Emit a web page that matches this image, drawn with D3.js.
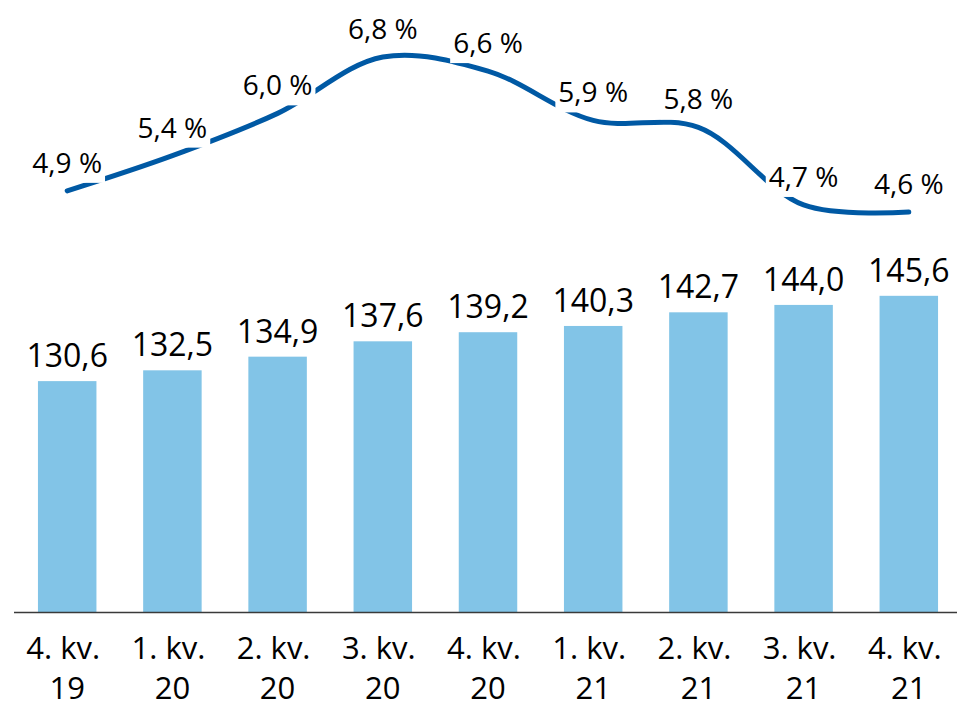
<!DOCTYPE html>
<html>
<head>
<meta charset="utf-8">
<script src="https://cdn.jsdelivr.net/npm/d3@7"></script>
<style>
  html, body { margin: 0; padding: 0; background: #fff; }
  svg { display: block; font-family: "Open Sans", "Noto Sans", sans-serif; }
</style>
</head>
<body>
<svg id="chart" width="957" height="708"></svg>
<script>
const categories = ["4. kv. 19", "1. kv. 20", "2. kv. 20", "3. kv. 20", "4. kv. 20", "1. kv. 21", "2. kv. 21", "3. kv. 21", "4. kv. 21"];
const catLine1 = ["4. kv.", "1. kv.", "2. kv.", "3. kv.", "4. kv.", "1. kv.", "2. kv.", "3. kv.", "4. kv."];
const catLine2 = ["19", "20", "20", "20", "20", "21", "21", "21", "21"];
const barValues = [130.6, 132.5, 134.9, 137.6, 139.2, 140.3, 142.7, 144.0, 145.6];
const lineValues = [4.9, 5.4, 6.0, 6.8, 6.6, 5.9, 5.8, 4.7, 4.6];

const fmt1 = v => d3.format(".1f")(v).replace(".", ",");

const svg = d3.select("#chart");
const W = 957, H = 708;
const baseY = 612;

const x = d3.scaleBand()
  .domain(categories)
  .range([14.6, 961.4])
  .paddingInner(0.444)
  .paddingOuter(0.222);

const yBar = d3.scaleLinear().domain([90, 180]).range([baseY, 100.2]);
const yLine = d3.scaleLinear().domain([4.6, 6.8]).range([212, 57]);

const barColor = "#82C4E7";
const lineColor = "#0059A4";

// bars
svg.append("g").selectAll("rect")
  .data(barValues)
  .join("rect")
  .attr("x", (d, i) => x(categories[i]))
  .attr("y", d => yBar(d))
  .attr("width", x.bandwidth())
  .attr("height", d => baseY - yBar(d))
  .attr("fill", barColor);

// bar labels
svg.append("g").selectAll("text")
  .data(barValues)
  .join("text")
  .attr("x", (d, i) => x(categories[i]) + x.bandwidth() / 2)
  .attr("y", d => yBar(d) - 14)
  .attr("text-anchor", "middle")
  .attr("font-size", 32)
  .attr("fill", "#000")
  .text(d => fmt1(d));

// axis baseline
svg.append("line")
  .attr("x1", 14).attr("x2", W)
  .attr("y1", baseY + 0.5).attr("y2", baseY + 0.5)
  .attr("stroke", "#3a3a3a")
  .attr("stroke-width", 1.5);

// category labels
const xl = svg.append("g");
categories.forEach((c, i) => {
  const cx = x(c) + x.bandwidth() / 2;
  xl.append("text")
    .attr("x", cx - 4).attr("y", 659)
    .attr("text-anchor", "middle")
    .attr("font-size", 31)
    .attr("fill", "#000")
    .text(catLine1[i]);
  xl.append("text")
    .attr("x", cx).attr("y", 699)
    .attr("text-anchor", "middle")
    .attr("font-size", 31)
    .attr("fill", "#000")
    .text(catLine2[i]);
});

// line
const line = d3.line()
  .x((d, i) => x(categories[i]) + x.bandwidth() / 2)
  .y(d => yLine(d))
  .curve(d3.curveCatmullRom.alpha(0.5));

svg.append("path")
  .datum(lineValues)
  .attr("d", line)
  .attr("fill", "none")
  .attr("stroke", lineColor)
  .attr("stroke-width", 5)
  .attr("stroke-linecap", "round")
  .attr("stroke-linejoin", "round");

// line labels with white background
const lg = svg.append("g");
lineValues.forEach((v, i) => {
  const cx = x(categories[i]) + x.bandwidth() / 2;
  const g = lg.append("g");
  const t = g.append("text")
    .attr("x", cx).attr("y", yLine(v) - 18)
    .attr("text-anchor", "middle")
    .attr("font-size", 28)
    .attr("fill", "#000")
    .text(fmt1(v) + " %");
  const bb = t.node().getBBox();
  g.insert("rect", "text")
    .attr("x", bb.x - 3).attr("y", bb.y + 2)
    .attr("width", bb.width + 6).attr("height", bb.height)
    .attr("fill", "#fff");
});
</script>
</body>
</html>
